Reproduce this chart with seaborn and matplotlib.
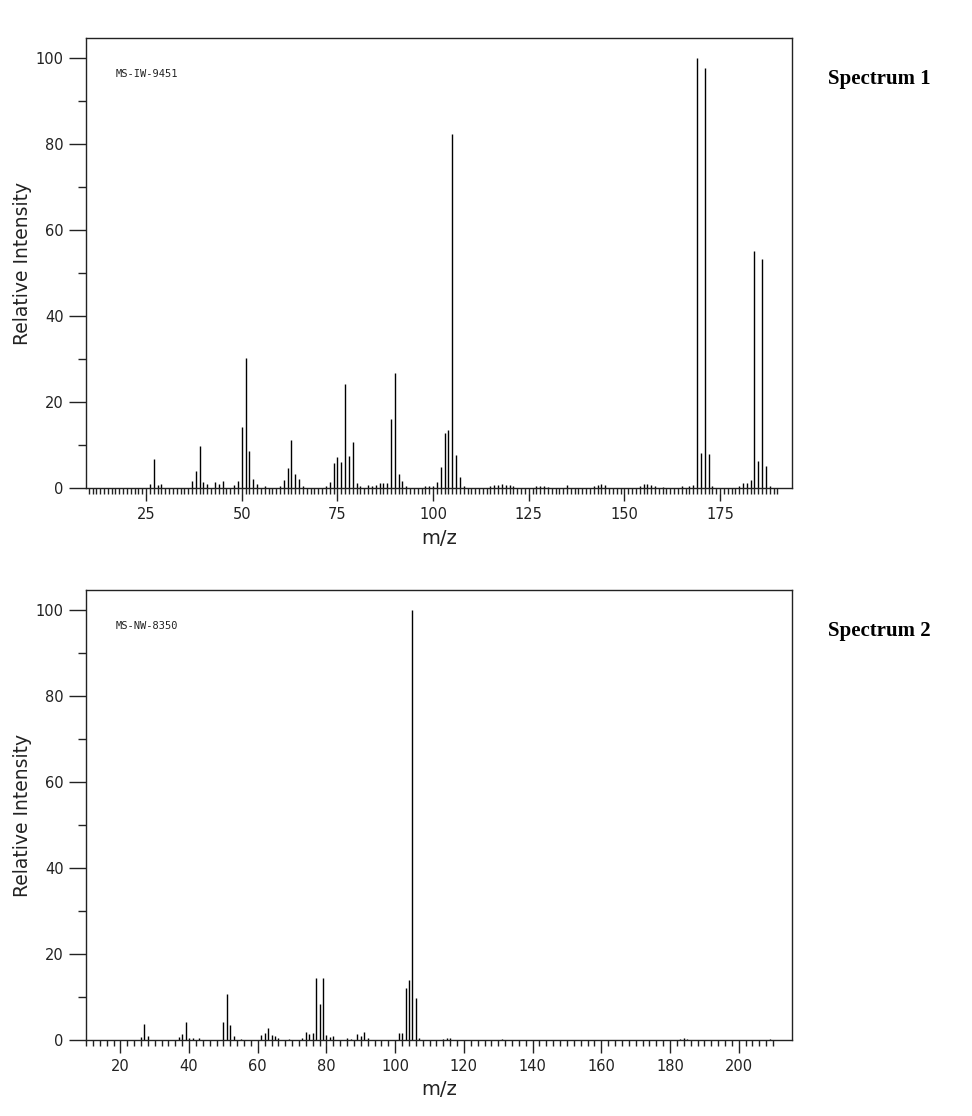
import matplotlib
matplotlib.use("Agg")
import matplotlib.pyplot as plt
import seaborn as sns
from matplotlib.ticker import FixedLocator

# Spectrum 1 (MS-IW-9451): m/z and relative intensity
mz_1 = [26, 27, 28, 29, 37, 38, 39, 40, 41, 43, 44, 45, 48, 49, 50, 51, 52, 53, 54, 56,
        60, 61, 62, 63, 64, 65, 66, 72, 73, 74, 75, 76, 77, 78, 79, 80, 81, 83, 84, 85,
        86, 87, 88, 89, 90, 91, 92, 93, 98, 99, 100, 101, 102, 103, 104, 105, 106, 107, 108,
        115, 116, 117, 118, 119, 120, 121, 127, 128, 129, 130, 135, 142, 143, 144, 145,
        154, 155, 156, 157, 158, 160, 165, 167, 168, 169, 170, 171, 172, 173,
        180, 181, 182, 183, 184, 185, 186, 187, 188]
intensity_1 = [0.9, 6.8, 0.6, 0.9, 1.6, 4.0, 9.8, 1.4, 0.9, 1.4, 0.9, 1.6, 0.6, 1.6, 14.2, 30.3, 8.6, 2.1, 1.0, 0.4,
               0.5, 1.9, 4.6, 11.2, 3.3, 2.2, 0.5, 0.4, 1.3, 5.8, 7.3, 6.1, 24.2, 7.4, 10.7, 1.1, 0.5, 0.7, 0.5, 0.8,
               1.1, 1.2, 1.1, 16.0, 26.8, 3.3, 1.6, 0.5, 0.4, 0.5, 0.4, 1.3, 4.9, 12.9, 13.4, 82.3, 7.7, 2.6, 0.5,
               0.4, 0.8, 0.6, 0.9, 0.6, 0.8, 0.5, 0.4, 0.5, 0.4, 0.3, 0.6, 0.4, 0.6, 0.9, 0.6,
               0.4, 0.9, 0.9, 0.8, 0.5, 0.3, 0.4, 0.5, 0.6, 100.0, 8.1, 97.7, 7.9, 0.5,
               0.4, 1.1, 1.1, 1.9, 55.2, 6.3, 53.3, 5.2, 0.5]

# Spectrum 2 (MS-NW-8350)
mz_2 = [26, 27, 28, 37, 38, 39, 40, 41, 43, 50, 51, 52, 53, 55, 61, 62, 63, 64, 65, 66,
        69, 73, 74, 75, 76, 77, 78, 79, 80, 81, 82, 86, 87, 89, 90, 91, 92,
        101, 102, 103, 104, 105, 106, 107, 114, 115, 116, 131, 183, 184, 185, 209]
intensity_2 = [0.7, 3.7, 0.9, 0.7, 1.4, 4.3, 0.5, 0.4, 0.4, 4.3, 10.8, 3.4, 0.9, 0.3, 1.1, 1.6, 2.9, 1.2, 1.0, 0.4,
               0.3, 0.5, 1.8, 1.4, 1.6, 14.4, 8.4, 14.4, 1.2, 0.8, 0.9, 0.4, 0.3, 1.4, 0.9, 1.8, 0.5,
               1.7, 1.7, 12.2, 13.9, 100.0, 9.8, 0.5, 0.3, 0.5, 0.4, 0.2, 0.3, 0.4, 0.3, 0.3]

codes = ["MS-IW-9451", "MS-NW-8350"]
titles = ["Spectrum 1", "Spectrum 2"]
x_limits = [(9.3, 193.8), (10.0, 215.5)]
x_major = [list(range(25, 176, 25)), list(range(20, 201, 20))]
x_minor = [list(range(10, 191, 1)), list(range(10, 211, 2))]
y_major = [0, 20, 40, 60, 80, 100]
y_minor = [10, 30, 50, 70, 90]

sns.set_theme(style="ticks")
plt.rcParams['font.family'] = ['DejaVu Sans']

fig = plt.figure(figsize=(9.72, 11.16), dpi=100)
ax1 = fig.add_axes([0.0885, 0.5627, 0.7263, 0.4032])
ax2 = fig.add_axes([0.0885, 0.0681, 0.7263, 0.4032])

spectra = [(mz_1, intensity_1), (mz_2, intensity_2)]
title_y = [0.929, 0.4346]

for i, ax in enumerate([ax1, ax2]):
    mz, inten = spectra[i]
    ax.vlines(mz, 0, inten, color="black", linewidth=1.0)
    ax.set_xlim(*x_limits[i])
    ax.set_ylim(0, 104.7)

    ax.xaxis.set_major_locator(FixedLocator(x_major[i]))
    ax.xaxis.set_minor_locator(FixedLocator(x_minor[i]))
    ax.yaxis.set_major_locator(FixedLocator(y_major))
    ax.yaxis.set_minor_locator(FixedLocator(y_minor))

    ax.tick_params(axis="x", which="major", direction="out", length=9, width=1,
                   pad=5, labelsize=10.5, color="#222222", labelcolor="#222222")
    ax.tick_params(axis="x", which="minor", direction="out", length=4, width=1,
                   color="#222222")
    ax.tick_params(axis="y", which="major", direction="out", length=12, width=1,
                   pad=4, labelsize=10.5, color="#222222", labelcolor="#222222")
    ax.tick_params(axis="y", which="minor", direction="out", length=6, width=1,
                   color="#222222")

    for side in ["left", "right", "top", "bottom"]:
        ax.spines[side].set_visible(True)
        ax.spines[side].set_color("#222222")
        ax.spines[side].set_linewidth(1.0)

    ax.set_ylabel("Relative Intensity", fontsize=13.5, color="#222222")
    ax.yaxis.set_label_coords(-0.077, 0.5)
    ax.set_xlabel("m/z", fontsize=14, color="#222222")
    ax.xaxis.set_label_coords(0.5, -0.09)

    ax.text(0.0425, 0.92, codes[i], transform=ax.transAxes, fontsize=7.5,
            family="DejaVu Sans Mono", va="center", ha="left", color="#222222")

    fig.text(0.905, title_y[i], titles[i], ha="center", va="center",
             family="Liberation Serif", weight="bold", fontsize=15, color="black")

fig.savefig("out.png", dpi=100)
